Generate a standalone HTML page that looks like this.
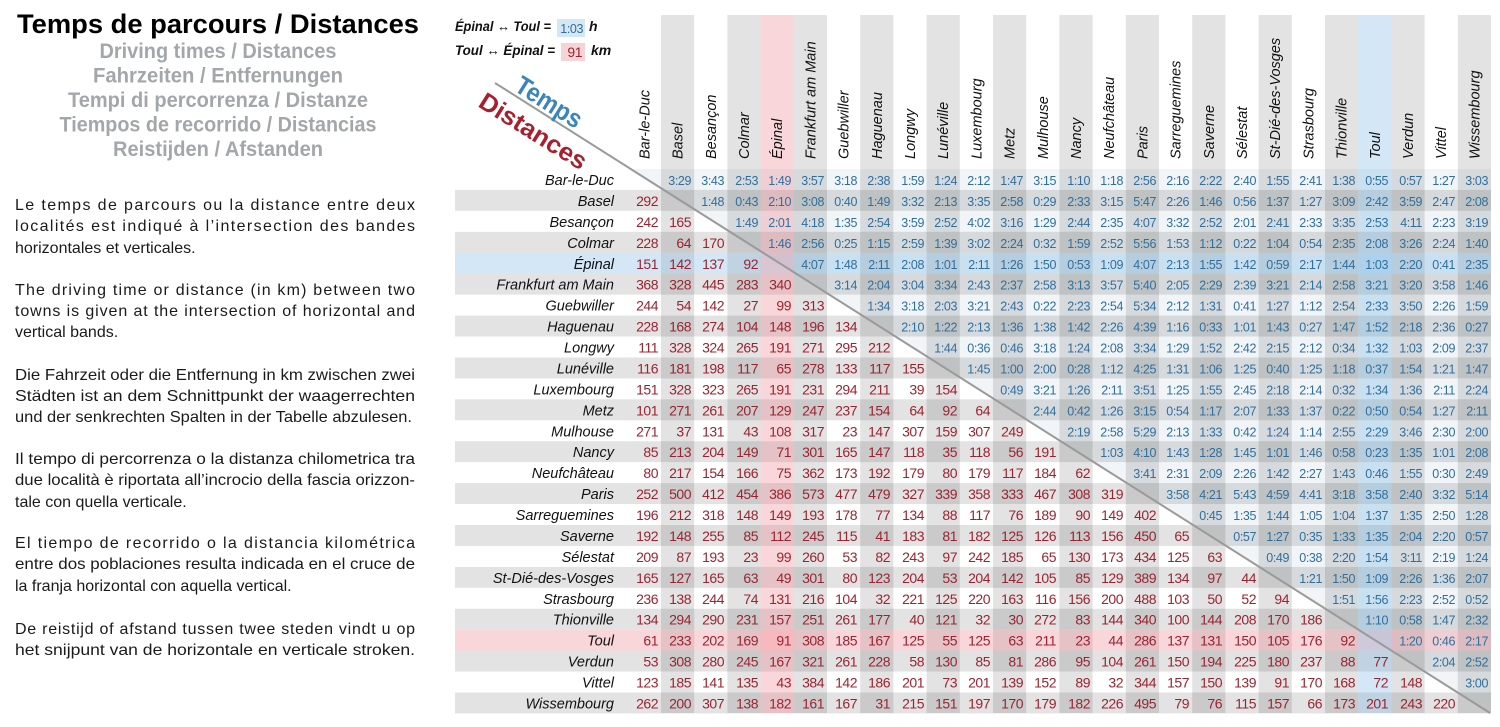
<!DOCTYPE html>
<html><head><meta charset="utf-8"><style>
html,body{margin:0;padding:0;background:#fff}
svg{display:block}
.p{font-family:"Liberation Sans",sans-serif;font-size:16px;fill:#1a1a1a}
.h{font-family:"Liberation Sans",sans-serif;font-style:italic;font-size:14.5px;fill:#111}
.d{font-family:"Liberation Sans Narrow","Liberation Sans",sans-serif;font-size:14px;letter-spacing:-0.5px;fill:#9b2330;text-anchor:end}
.t{font-family:"Liberation Sans Narrow","Liberation Sans",sans-serif;font-size:12.5px;letter-spacing:-0.4px;fill:#2f6f9f;text-anchor:end}
.r{text-anchor:end}
</style></head><body>
<svg width="1500" height="727" viewBox="0 0 1500 727" xmlns="http://www.w3.org/2000/svg">
<rect width="1500" height="727" fill="#fff"/>
<text x="218" y="33" text-anchor="middle" font-family="Liberation Sans, sans-serif" font-weight="bold" font-size="27" fill="#000" textLength="402" lengthAdjust="spacingAndGlyphs">Temps de parcours / Distances</text>
<g font-family="Liberation Sans, sans-serif" font-weight="bold" font-size="21" fill="#a3a7aa" text-anchor="middle">
<text x="218" y="58" textLength="237" lengthAdjust="spacingAndGlyphs">Driving times / Distances</text>
<text x="218" y="82.5" textLength="250" lengthAdjust="spacingAndGlyphs">Fahrzeiten / Entfernungen</text>
<text x="218" y="107" textLength="300" lengthAdjust="spacingAndGlyphs">Tempi di percorrenza / Distanze</text>
<text x="218" y="131.5" textLength="317" lengthAdjust="spacingAndGlyphs">Tiempos de recorrido / Distancias</text>
<text x="218" y="156" textLength="210" lengthAdjust="spacingAndGlyphs">Reistijden / Afstanden</text>
</g>
<g class="p">
<text x="15" y="210" textLength="400" lengthAdjust="spacing">Le temps de parcours ou la distance entre deux</text>
<text x="15" y="231" textLength="400" lengthAdjust="spacing">localités est indiqué à l’intersection des bandes</text>
<text x="15" y="253">horizontales et verticales.</text>
<text x="15" y="295" textLength="400" lengthAdjust="spacing">The driving time or distance (in km) between two</text>
<text x="15" y="316" textLength="400" lengthAdjust="spacing">towns is given at the intersection of horizontal and</text>
<text x="15" y="337">vertical bands.</text>
<text x="15" y="380" textLength="400" lengthAdjust="spacingAndGlyphs">Die Fahrzeit oder die Entfernung in km zwischen zwei</text>
<text x="15" y="401" textLength="400" lengthAdjust="spacingAndGlyphs">Städten ist an dem Schnittpunkt der waagerrechten</text>
<text x="15" y="422" textLength="397" lengthAdjust="spacingAndGlyphs">und der senkrechten Spalten in der Tabelle abzulesen.</text>
<text x="15" y="464" textLength="400" lengthAdjust="spacingAndGlyphs">Il tempo di percorrenza o la distanza chilometrica tra</text>
<text x="15" y="485" textLength="400" lengthAdjust="spacingAndGlyphs">due località è riportata all’incrocio della fascia orizzon-</text>
<text x="15" y="507">tale con quella verticale.</text>
<text x="15" y="548" textLength="400" lengthAdjust="spacing">El tiempo de recorrido o la distancia kilométrica</text>
<text x="15" y="569" textLength="400" lengthAdjust="spacingAndGlyphs">entre dos poblaciones resulta indicada en el cruce de</text>
<text x="15" y="591">la franja horizontal con aquella vertical.</text>
<text x="15" y="634" textLength="400" lengthAdjust="spacing">De reistijd of afstand tussen twee steden vindt u op</text>
<text x="15" y="655" textLength="400" lengthAdjust="spacingAndGlyphs">het snijpunt van de horizontale en verticale stroken.</text>
</g>
<polygon points="627.8,169 1491,169 1491,713" fill="rgba(140,170,195,0.12)"/>
<g fill="rgba(0,0,0,0.11)">
<rect x="455" y="189.9" width="1036" height="20.94"/>
<rect x="455" y="231.8" width="1036" height="20.94"/>
<rect x="455" y="273.7" width="1036" height="20.94"/>
<rect x="455" y="315.6" width="1036" height="20.94"/>
<rect x="455" y="357.5" width="1036" height="20.94"/>
<rect x="455" y="399.3" width="1036" height="20.94"/>
<rect x="455" y="441.2" width="1036" height="20.94"/>
<rect x="455" y="483.1" width="1036" height="20.94"/>
<rect x="455" y="525" width="1036" height="20.94"/>
<rect x="455" y="566.9" width="1036" height="20.94"/>
<rect x="455" y="608.7" width="1036" height="20.94"/>
<rect x="455" y="650.6" width="1036" height="20.94"/>
<rect x="455" y="692.5" width="1036" height="20.94"/>
<rect x="661" y="15" width="33.2" height="698"/>
<rect x="727.4" y="15" width="33.2" height="698"/>
<rect x="793.8" y="15" width="33.2" height="698"/>
<rect x="860.2" y="15" width="33.2" height="698"/>
<rect x="926.6" y="15" width="33.2" height="698"/>
<rect x="993" y="15" width="33.2" height="698"/>
<rect x="1059.4" y="15" width="33.2" height="698"/>
<rect x="1125.8" y="15" width="33.2" height="698"/>
<rect x="1192.2" y="15" width="33.2" height="698"/>
<rect x="1258.6" y="15" width="33.2" height="698"/>
<rect x="1325" y="15" width="33.2" height="698"/>
<rect x="1391.4" y="15" width="33.2" height="698"/>
<rect x="1457.8" y="15" width="33.2" height="698"/>
</g>
<rect x="455" y="252.8" width="1036" height="20.94" fill="rgba(110,175,225,0.3)"/>
<rect x="455" y="629.7" width="1036" height="20.94" fill="rgba(235,120,130,0.3)"/>
<rect x="760.6" y="15" width="33.2" height="698" fill="rgba(235,120,130,0.3)"/>
<rect x="1358.2" y="15" width="33.2" height="698" fill="rgba(110,175,225,0.3)"/>
<line x1="495" y1="83" x2="1490" y2="713" stroke="#9a9a9a" stroke-width="2"/>
<g font-family="Liberation Sans, sans-serif" font-style="italic" font-weight="bold" font-size="14" fill="#111">
<text x="455" y="31" textLength="96" lengthAdjust="spacingAndGlyphs">Épinal ↔ Toul =</text>
<text x="455" y="55" textLength="100" lengthAdjust="spacingAndGlyphs">Toul ↔ Épinal =</text>
<text x="589" y="31">h</text>
<text x="591" y="55">km</text>
</g>
<rect x="557" y="19" width="28" height="18" fill="#d3e7f5"/>
<rect x="561" y="43" width="24" height="18" fill="#f6d4d6"/>
<text x="583" y="33" class="t">1:03</text>
<text x="582" y="57" class="d">91</text>
<text transform="translate(513,90) rotate(32)" font-family="Liberation Sans, sans-serif" font-weight="bold" font-size="26" fill="#3a86ba" textLength="74" lengthAdjust="spacingAndGlyphs">Temps</text>
<text transform="translate(477,106) rotate(32)" font-family="Liberation Sans, sans-serif" font-weight="bold" font-size="25" fill="#a8202e" textLength="122" lengthAdjust="spacingAndGlyphs">Distances</text>
<g class="h">
<text transform="translate(649.4,159) rotate(-90)">Bar-le-Duc</text>
<text transform="translate(682.6,159) rotate(-90)">Basel</text>
<text transform="translate(715.8,159) rotate(-90)">Besançon</text>
<text transform="translate(749,159) rotate(-90)">Colmar</text>
<text transform="translate(782.2,159) rotate(-90)">Épinal</text>
<text transform="translate(815.4,159) rotate(-90)">Frankfurt am Main</text>
<text transform="translate(848.6,159) rotate(-90)">Guebwiller</text>
<text transform="translate(881.8,159) rotate(-90)">Haguenau</text>
<text transform="translate(915,159) rotate(-90)">Longwy</text>
<text transform="translate(948.2,159) rotate(-90)">Lunéville</text>
<text transform="translate(981.4,159) rotate(-90)">Luxembourg</text>
<text transform="translate(1014.6,159) rotate(-90)">Metz</text>
<text transform="translate(1047.8,159) rotate(-90)">Mulhouse</text>
<text transform="translate(1081,159) rotate(-90)">Nancy</text>
<text transform="translate(1114.2,159) rotate(-90)">Neufchâteau</text>
<text transform="translate(1147.4,159) rotate(-90)">Paris</text>
<text transform="translate(1180.6,159) rotate(-90)">Sarreguemines</text>
<text transform="translate(1213.8,159) rotate(-90)">Saverne</text>
<text transform="translate(1247,159) rotate(-90)">Sélestat</text>
<text transform="translate(1280.2,159) rotate(-90)">St-Dié-des-Vosges</text>
<text transform="translate(1313.4,159) rotate(-90)">Strasbourg</text>
<text transform="translate(1346.6,159) rotate(-90)">Thionville</text>
<text transform="translate(1379.8,159) rotate(-90)">Toul</text>
<text transform="translate(1413,159) rotate(-90)">Verdun</text>
<text transform="translate(1446.2,159) rotate(-90)">Vittel</text>
<text transform="translate(1479.4,159) rotate(-90)">Wissembourg</text>
</g>
<g class="h r">
<text x="614" y="185">Bar-le-Duc</text>
<text x="614" y="205.9">Basel</text>
<text x="614" y="226.9">Besançon</text>
<text x="614" y="247.8">Colmar</text>
<text x="614" y="268.8">Épinal</text>
<text x="614" y="289.7">Frankfurt am Main</text>
<text x="614" y="310.6">Guebwiller</text>
<text x="614" y="331.6">Haguenau</text>
<text x="614" y="352.5">Longwy</text>
<text x="614" y="373.5">Lunéville</text>
<text x="614" y="394.4">Luxembourg</text>
<text x="614" y="415.3">Metz</text>
<text x="614" y="436.3">Mulhouse</text>
<text x="614" y="457.2">Nancy</text>
<text x="614" y="478.2">Neufchâteau</text>
<text x="614" y="499.1">Paris</text>
<text x="614" y="520">Sarreguemines</text>
<text x="614" y="541">Saverne</text>
<text x="614" y="561.9">Sélestat</text>
<text x="614" y="582.9">St-Dié-des-Vosges</text>
<text x="614" y="603.8">Strasbourg</text>
<text x="614" y="624.7">Thionville</text>
<text x="614" y="645.7">Toul</text>
<text x="614" y="666.6">Verdun</text>
<text x="614" y="687.6">Vittel</text>
<text x="614" y="708.5">Wissembourg</text>
</g>
<text class="t" y="185"><tspan x="691">3:29</tspan><tspan x="724">3:43</tspan><tspan x="758">2:53</tspan><tspan x="791">1:49</tspan><tspan x="824">3:57</tspan><tspan x="857">3:18</tspan><tspan x="890">2:38</tspan><tspan x="924">1:59</tspan><tspan x="957">1:24</tspan><tspan x="990">2:12</tspan><tspan x="1023">1:47</tspan><tspan x="1056">3:15</tspan><tspan x="1090">1:10</tspan><tspan x="1123">1:18</tspan><tspan x="1156">2:56</tspan><tspan x="1189">2:16</tspan><tspan x="1222">2:22</tspan><tspan x="1256">2:40</tspan><tspan x="1289">1:55</tspan><tspan x="1322">2:41</tspan><tspan x="1355">1:38</tspan><tspan x="1388">0:55</tspan><tspan x="1422">0:57</tspan><tspan x="1455">1:27</tspan><tspan x="1488">3:03</tspan></text>
<text class="t" y="205.9"><tspan x="724">1:48</tspan><tspan x="758">0:43</tspan><tspan x="791">2:10</tspan><tspan x="824">3:08</tspan><tspan x="857">0:40</tspan><tspan x="890">1:49</tspan><tspan x="924">3:32</tspan><tspan x="957">2:13</tspan><tspan x="990">3:35</tspan><tspan x="1023">2:58</tspan><tspan x="1056">0:29</tspan><tspan x="1090">2:33</tspan><tspan x="1123">3:15</tspan><tspan x="1156">5:47</tspan><tspan x="1189">2:26</tspan><tspan x="1222">1:46</tspan><tspan x="1256">0:56</tspan><tspan x="1289">1:37</tspan><tspan x="1322">1:27</tspan><tspan x="1355">3:09</tspan><tspan x="1388">2:42</tspan><tspan x="1422">3:59</tspan><tspan x="1455">2:47</tspan><tspan x="1488">2:08</tspan></text>
<text class="t" y="226.9"><tspan x="758">1:49</tspan><tspan x="791">2:01</tspan><tspan x="824">4:18</tspan><tspan x="857">1:35</tspan><tspan x="890">2:54</tspan><tspan x="924">3:59</tspan><tspan x="957">2:52</tspan><tspan x="990">4:02</tspan><tspan x="1023">3:16</tspan><tspan x="1056">1:29</tspan><tspan x="1090">2:44</tspan><tspan x="1123">2:35</tspan><tspan x="1156">4:07</tspan><tspan x="1189">3:32</tspan><tspan x="1222">2:52</tspan><tspan x="1256">2:01</tspan><tspan x="1289">2:41</tspan><tspan x="1322">2:33</tspan><tspan x="1355">3:35</tspan><tspan x="1388">2:53</tspan><tspan x="1422">4:11</tspan><tspan x="1455">2:23</tspan><tspan x="1488">3:19</tspan></text>
<text class="t" y="247.8"><tspan x="791">1:46</tspan><tspan x="824">2:56</tspan><tspan x="857">0:25</tspan><tspan x="890">1:15</tspan><tspan x="924">2:59</tspan><tspan x="957">1:39</tspan><tspan x="990">3:02</tspan><tspan x="1023">2:24</tspan><tspan x="1056">0:32</tspan><tspan x="1090">1:59</tspan><tspan x="1123">2:52</tspan><tspan x="1156">5:56</tspan><tspan x="1189">1:53</tspan><tspan x="1222">1:12</tspan><tspan x="1256">0:22</tspan><tspan x="1289">1:04</tspan><tspan x="1322">0:54</tspan><tspan x="1355">2:35</tspan><tspan x="1388">2:08</tspan><tspan x="1422">3:26</tspan><tspan x="1455">2:24</tspan><tspan x="1488">1:40</tspan></text>
<text class="t" y="268.8"><tspan x="824">4:07</tspan><tspan x="857">1:48</tspan><tspan x="890">2:11</tspan><tspan x="924">2:08</tspan><tspan x="957">1:01</tspan><tspan x="990">2:11</tspan><tspan x="1023">1:26</tspan><tspan x="1056">1:50</tspan><tspan x="1090">0:53</tspan><tspan x="1123">1:09</tspan><tspan x="1156">4:07</tspan><tspan x="1189">2:13</tspan><tspan x="1222">1:55</tspan><tspan x="1256">1:42</tspan><tspan x="1289">0:59</tspan><tspan x="1322">2:17</tspan><tspan x="1355">1:44</tspan><tspan x="1388">1:03</tspan><tspan x="1422">2:20</tspan><tspan x="1455">0:41</tspan><tspan x="1488">2:35</tspan></text>
<text class="t" y="289.7"><tspan x="857">3:14</tspan><tspan x="890">2:04</tspan><tspan x="924">3:04</tspan><tspan x="957">3:34</tspan><tspan x="990">2:43</tspan><tspan x="1023">2:37</tspan><tspan x="1056">2:58</tspan><tspan x="1090">3:13</tspan><tspan x="1123">3:57</tspan><tspan x="1156">5:40</tspan><tspan x="1189">2:05</tspan><tspan x="1222">2:29</tspan><tspan x="1256">2:39</tspan><tspan x="1289">3:21</tspan><tspan x="1322">2:14</tspan><tspan x="1355">2:58</tspan><tspan x="1388">3:21</tspan><tspan x="1422">3:20</tspan><tspan x="1455">3:58</tspan><tspan x="1488">1:46</tspan></text>
<text class="t" y="310.6"><tspan x="890">1:34</tspan><tspan x="924">3:18</tspan><tspan x="957">2:03</tspan><tspan x="990">3:21</tspan><tspan x="1023">2:43</tspan><tspan x="1056">0:22</tspan><tspan x="1090">2:23</tspan><tspan x="1123">2:54</tspan><tspan x="1156">5:34</tspan><tspan x="1189">2:12</tspan><tspan x="1222">1:31</tspan><tspan x="1256">0:41</tspan><tspan x="1289">1:27</tspan><tspan x="1322">1:12</tspan><tspan x="1355">2:54</tspan><tspan x="1388">2:33</tspan><tspan x="1422">3:50</tspan><tspan x="1455">2:26</tspan><tspan x="1488">1:59</tspan></text>
<text class="t" y="331.6"><tspan x="924">2:10</tspan><tspan x="957">1:22</tspan><tspan x="990">2:13</tspan><tspan x="1023">1:36</tspan><tspan x="1056">1:38</tspan><tspan x="1090">1:42</tspan><tspan x="1123">2:26</tspan><tspan x="1156">4:39</tspan><tspan x="1189">1:16</tspan><tspan x="1222">0:33</tspan><tspan x="1256">1:01</tspan><tspan x="1289">1:43</tspan><tspan x="1322">0:27</tspan><tspan x="1355">1:47</tspan><tspan x="1388">1:52</tspan><tspan x="1422">2:18</tspan><tspan x="1455">2:36</tspan><tspan x="1488">0:27</tspan></text>
<text class="t" y="352.5"><tspan x="957">1:44</tspan><tspan x="990">0:36</tspan><tspan x="1023">0:46</tspan><tspan x="1056">3:18</tspan><tspan x="1090">1:24</tspan><tspan x="1123">2:08</tspan><tspan x="1156">3:34</tspan><tspan x="1189">1:29</tspan><tspan x="1222">1:52</tspan><tspan x="1256">2:42</tspan><tspan x="1289">2:15</tspan><tspan x="1322">2:12</tspan><tspan x="1355">0:34</tspan><tspan x="1388">1:32</tspan><tspan x="1422">1:03</tspan><tspan x="1455">2:09</tspan><tspan x="1488">2:37</tspan></text>
<text class="t" y="373.5"><tspan x="990">1:45</tspan><tspan x="1023">1:00</tspan><tspan x="1056">2:00</tspan><tspan x="1090">0:28</tspan><tspan x="1123">1:12</tspan><tspan x="1156">4:25</tspan><tspan x="1189">1:31</tspan><tspan x="1222">1:06</tspan><tspan x="1256">1:25</tspan><tspan x="1289">0:40</tspan><tspan x="1322">1:25</tspan><tspan x="1355">1:18</tspan><tspan x="1388">0:37</tspan><tspan x="1422">1:54</tspan><tspan x="1455">1:21</tspan><tspan x="1488">1:47</tspan></text>
<text class="t" y="394.4"><tspan x="1023">0:49</tspan><tspan x="1056">3:21</tspan><tspan x="1090">1:26</tspan><tspan x="1123">2:11</tspan><tspan x="1156">3:51</tspan><tspan x="1189">1:25</tspan><tspan x="1222">1:55</tspan><tspan x="1256">2:45</tspan><tspan x="1289">2:18</tspan><tspan x="1322">2:14</tspan><tspan x="1355">0:32</tspan><tspan x="1388">1:34</tspan><tspan x="1422">1:36</tspan><tspan x="1455">2:11</tspan><tspan x="1488">2:24</tspan></text>
<text class="t" y="415.3"><tspan x="1056">2:44</tspan><tspan x="1090">0:42</tspan><tspan x="1123">1:26</tspan><tspan x="1156">3:15</tspan><tspan x="1189">0:54</tspan><tspan x="1222">1:17</tspan><tspan x="1256">2:07</tspan><tspan x="1289">1:33</tspan><tspan x="1322">1:37</tspan><tspan x="1355">0:22</tspan><tspan x="1388">0:50</tspan><tspan x="1422">0:54</tspan><tspan x="1455">1:27</tspan><tspan x="1488">2:11</tspan></text>
<text class="t" y="436.3"><tspan x="1090">2:19</tspan><tspan x="1123">2:58</tspan><tspan x="1156">5:29</tspan><tspan x="1189">2:13</tspan><tspan x="1222">1:33</tspan><tspan x="1256">0:42</tspan><tspan x="1289">1:24</tspan><tspan x="1322">1:14</tspan><tspan x="1355">2:55</tspan><tspan x="1388">2:29</tspan><tspan x="1422">3:46</tspan><tspan x="1455">2:30</tspan><tspan x="1488">2:00</tspan></text>
<text class="t" y="457.2"><tspan x="1123">1:03</tspan><tspan x="1156">4:10</tspan><tspan x="1189">1:43</tspan><tspan x="1222">1:28</tspan><tspan x="1256">1:45</tspan><tspan x="1289">1:01</tspan><tspan x="1322">1:46</tspan><tspan x="1355">0:58</tspan><tspan x="1388">0:23</tspan><tspan x="1422">1:35</tspan><tspan x="1455">1:01</tspan><tspan x="1488">2:08</tspan></text>
<text class="t" y="478.2"><tspan x="1156">3:41</tspan><tspan x="1189">2:31</tspan><tspan x="1222">2:09</tspan><tspan x="1256">2:26</tspan><tspan x="1289">1:42</tspan><tspan x="1322">2:27</tspan><tspan x="1355">1:43</tspan><tspan x="1388">0:46</tspan><tspan x="1422">1:55</tspan><tspan x="1455">0:30</tspan><tspan x="1488">2:49</tspan></text>
<text class="t" y="499.1"><tspan x="1189">3:58</tspan><tspan x="1222">4:21</tspan><tspan x="1256">5:43</tspan><tspan x="1289">4:59</tspan><tspan x="1322">4:41</tspan><tspan x="1355">3:18</tspan><tspan x="1388">3:58</tspan><tspan x="1422">2:40</tspan><tspan x="1455">3:32</tspan><tspan x="1488">5:14</tspan></text>
<text class="t" y="520"><tspan x="1222">0:45</tspan><tspan x="1256">1:35</tspan><tspan x="1289">1:44</tspan><tspan x="1322">1:05</tspan><tspan x="1355">1:04</tspan><tspan x="1388">1:37</tspan><tspan x="1422">1:35</tspan><tspan x="1455">2:50</tspan><tspan x="1488">1:28</tspan></text>
<text class="t" y="541"><tspan x="1256">0:57</tspan><tspan x="1289">1:27</tspan><tspan x="1322">0:35</tspan><tspan x="1355">1:33</tspan><tspan x="1388">1:35</tspan><tspan x="1422">2:04</tspan><tspan x="1455">2:20</tspan><tspan x="1488">0:57</tspan></text>
<text class="t" y="561.9"><tspan x="1289">0:49</tspan><tspan x="1322">0:38</tspan><tspan x="1355">2:20</tspan><tspan x="1388">1:54</tspan><tspan x="1422">3:11</tspan><tspan x="1455">2:19</tspan><tspan x="1488">1:24</tspan></text>
<text class="t" y="582.9"><tspan x="1322">1:21</tspan><tspan x="1355">1:50</tspan><tspan x="1388">1:09</tspan><tspan x="1422">2:26</tspan><tspan x="1455">1:36</tspan><tspan x="1488">2:07</tspan></text>
<text class="t" y="603.8"><tspan x="1355">1:51</tspan><tspan x="1388">1:56</tspan><tspan x="1422">2:23</tspan><tspan x="1455">2:52</tspan><tspan x="1488">0:52</tspan></text>
<text class="t" y="624.7"><tspan x="1388">1:10</tspan><tspan x="1422">0:58</tspan><tspan x="1455">1:47</tspan><tspan x="1488">2:32</tspan></text>
<text class="t" y="645.7"><tspan x="1422">1:20</tspan><tspan x="1455">0:46</tspan><tspan x="1488">2:17</tspan></text>
<text class="t" y="666.6"><tspan x="1455">2:04</tspan><tspan x="1488">2:52</tspan></text>
<text class="t" y="687.6"><tspan x="1488">3:00</tspan></text>
<text class="d" y="205.9"><tspan x="658">292</tspan></text>
<text class="d" y="226.9"><tspan x="658">242</tspan><tspan x="691">165</tspan></text>
<text class="d" y="247.8"><tspan x="658">228</tspan><tspan x="691">64</tspan><tspan x="724">170</tspan></text>
<text class="d" y="268.8"><tspan x="658">151</tspan><tspan x="691">142</tspan><tspan x="724">137</tspan><tspan x="758">92</tspan></text>
<text class="d" y="289.7"><tspan x="658">368</tspan><tspan x="691">328</tspan><tspan x="724">445</tspan><tspan x="758">283</tspan><tspan x="791">340</tspan></text>
<text class="d" y="310.6"><tspan x="658">244</tspan><tspan x="691">54</tspan><tspan x="724">142</tspan><tspan x="758">27</tspan><tspan x="791">99</tspan><tspan x="824">313</tspan></text>
<text class="d" y="331.6"><tspan x="658">228</tspan><tspan x="691">168</tspan><tspan x="724">274</tspan><tspan x="758">104</tspan><tspan x="791">148</tspan><tspan x="824">196</tspan><tspan x="857">134</tspan></text>
<text class="d" y="352.5"><tspan x="658">111</tspan><tspan x="691">328</tspan><tspan x="724">324</tspan><tspan x="758">265</tspan><tspan x="791">191</tspan><tspan x="824">271</tspan><tspan x="857">295</tspan><tspan x="890">212</tspan></text>
<text class="d" y="373.5"><tspan x="658">116</tspan><tspan x="691">181</tspan><tspan x="724">198</tspan><tspan x="758">117</tspan><tspan x="791">65</tspan><tspan x="824">278</tspan><tspan x="857">133</tspan><tspan x="890">117</tspan><tspan x="924">155</tspan></text>
<text class="d" y="394.4"><tspan x="658">151</tspan><tspan x="691">328</tspan><tspan x="724">323</tspan><tspan x="758">265</tspan><tspan x="791">191</tspan><tspan x="824">231</tspan><tspan x="857">294</tspan><tspan x="890">211</tspan><tspan x="924">39</tspan><tspan x="957">154</tspan></text>
<text class="d" y="415.3"><tspan x="658">101</tspan><tspan x="691">271</tspan><tspan x="724">261</tspan><tspan x="758">207</tspan><tspan x="791">129</tspan><tspan x="824">247</tspan><tspan x="857">237</tspan><tspan x="890">154</tspan><tspan x="924">64</tspan><tspan x="957">92</tspan><tspan x="990">64</tspan></text>
<text class="d" y="436.3"><tspan x="658">271</tspan><tspan x="691">37</tspan><tspan x="724">131</tspan><tspan x="758">43</tspan><tspan x="791">108</tspan><tspan x="824">317</tspan><tspan x="857">23</tspan><tspan x="890">147</tspan><tspan x="924">307</tspan><tspan x="957">159</tspan><tspan x="990">307</tspan><tspan x="1023">249</tspan></text>
<text class="d" y="457.2"><tspan x="658">85</tspan><tspan x="691">213</tspan><tspan x="724">204</tspan><tspan x="758">149</tspan><tspan x="791">71</tspan><tspan x="824">301</tspan><tspan x="857">165</tspan><tspan x="890">147</tspan><tspan x="924">118</tspan><tspan x="957">35</tspan><tspan x="990">118</tspan><tspan x="1023">56</tspan><tspan x="1056">191</tspan></text>
<text class="d" y="478.2"><tspan x="658">80</tspan><tspan x="691">217</tspan><tspan x="724">154</tspan><tspan x="758">166</tspan><tspan x="791">75</tspan><tspan x="824">362</tspan><tspan x="857">173</tspan><tspan x="890">192</tspan><tspan x="924">179</tspan><tspan x="957">80</tspan><tspan x="990">179</tspan><tspan x="1023">117</tspan><tspan x="1056">184</tspan><tspan x="1090">62</tspan></text>
<text class="d" y="499.1"><tspan x="658">252</tspan><tspan x="691">500</tspan><tspan x="724">412</tspan><tspan x="758">454</tspan><tspan x="791">386</tspan><tspan x="824">573</tspan><tspan x="857">477</tspan><tspan x="890">479</tspan><tspan x="924">327</tspan><tspan x="957">339</tspan><tspan x="990">358</tspan><tspan x="1023">333</tspan><tspan x="1056">467</tspan><tspan x="1090">308</tspan><tspan x="1123">319</tspan></text>
<text class="d" y="520"><tspan x="658">196</tspan><tspan x="691">212</tspan><tspan x="724">318</tspan><tspan x="758">148</tspan><tspan x="791">149</tspan><tspan x="824">193</tspan><tspan x="857">178</tspan><tspan x="890">77</tspan><tspan x="924">134</tspan><tspan x="957">88</tspan><tspan x="990">117</tspan><tspan x="1023">76</tspan><tspan x="1056">189</tspan><tspan x="1090">90</tspan><tspan x="1123">149</tspan><tspan x="1156">402</tspan></text>
<text class="d" y="541"><tspan x="658">192</tspan><tspan x="691">148</tspan><tspan x="724">255</tspan><tspan x="758">85</tspan><tspan x="791">112</tspan><tspan x="824">245</tspan><tspan x="857">115</tspan><tspan x="890">41</tspan><tspan x="924">183</tspan><tspan x="957">81</tspan><tspan x="990">182</tspan><tspan x="1023">125</tspan><tspan x="1056">126</tspan><tspan x="1090">113</tspan><tspan x="1123">156</tspan><tspan x="1156">450</tspan><tspan x="1189">65</tspan></text>
<text class="d" y="561.9"><tspan x="658">209</tspan><tspan x="691">87</tspan><tspan x="724">193</tspan><tspan x="758">23</tspan><tspan x="791">99</tspan><tspan x="824">260</tspan><tspan x="857">53</tspan><tspan x="890">82</tspan><tspan x="924">243</tspan><tspan x="957">97</tspan><tspan x="990">242</tspan><tspan x="1023">185</tspan><tspan x="1056">65</tspan><tspan x="1090">130</tspan><tspan x="1123">173</tspan><tspan x="1156">434</tspan><tspan x="1189">125</tspan><tspan x="1222">63</tspan></text>
<text class="d" y="582.9"><tspan x="658">165</tspan><tspan x="691">127</tspan><tspan x="724">165</tspan><tspan x="758">63</tspan><tspan x="791">49</tspan><tspan x="824">301</tspan><tspan x="857">80</tspan><tspan x="890">123</tspan><tspan x="924">204</tspan><tspan x="957">53</tspan><tspan x="990">204</tspan><tspan x="1023">142</tspan><tspan x="1056">105</tspan><tspan x="1090">85</tspan><tspan x="1123">129</tspan><tspan x="1156">389</tspan><tspan x="1189">134</tspan><tspan x="1222">97</tspan><tspan x="1256">44</tspan></text>
<text class="d" y="603.8"><tspan x="658">236</tspan><tspan x="691">138</tspan><tspan x="724">244</tspan><tspan x="758">74</tspan><tspan x="791">131</tspan><tspan x="824">216</tspan><tspan x="857">104</tspan><tspan x="890">32</tspan><tspan x="924">221</tspan><tspan x="957">125</tspan><tspan x="990">220</tspan><tspan x="1023">163</tspan><tspan x="1056">116</tspan><tspan x="1090">156</tspan><tspan x="1123">200</tspan><tspan x="1156">488</tspan><tspan x="1189">103</tspan><tspan x="1222">50</tspan><tspan x="1256">52</tspan><tspan x="1289">94</tspan></text>
<text class="d" y="624.7"><tspan x="658">134</tspan><tspan x="691">294</tspan><tspan x="724">290</tspan><tspan x="758">231</tspan><tspan x="791">157</tspan><tspan x="824">251</tspan><tspan x="857">261</tspan><tspan x="890">177</tspan><tspan x="924">40</tspan><tspan x="957">121</tspan><tspan x="990">32</tspan><tspan x="1023">30</tspan><tspan x="1056">272</tspan><tspan x="1090">83</tspan><tspan x="1123">144</tspan><tspan x="1156">340</tspan><tspan x="1189">100</tspan><tspan x="1222">144</tspan><tspan x="1256">208</tspan><tspan x="1289">170</tspan><tspan x="1322">186</tspan></text>
<text class="d" y="645.7"><tspan x="658">61</tspan><tspan x="691">233</tspan><tspan x="724">202</tspan><tspan x="758">169</tspan><tspan x="791">91</tspan><tspan x="824">308</tspan><tspan x="857">185</tspan><tspan x="890">167</tspan><tspan x="924">125</tspan><tspan x="957">55</tspan><tspan x="990">125</tspan><tspan x="1023">63</tspan><tspan x="1056">211</tspan><tspan x="1090">23</tspan><tspan x="1123">44</tspan><tspan x="1156">286</tspan><tspan x="1189">137</tspan><tspan x="1222">131</tspan><tspan x="1256">150</tspan><tspan x="1289">105</tspan><tspan x="1322">176</tspan><tspan x="1355">92</tspan></text>
<text class="d" y="666.6"><tspan x="658">53</tspan><tspan x="691">308</tspan><tspan x="724">280</tspan><tspan x="758">245</tspan><tspan x="791">167</tspan><tspan x="824">321</tspan><tspan x="857">261</tspan><tspan x="890">228</tspan><tspan x="924">58</tspan><tspan x="957">130</tspan><tspan x="990">85</tspan><tspan x="1023">81</tspan><tspan x="1056">286</tspan><tspan x="1090">95</tspan><tspan x="1123">104</tspan><tspan x="1156">261</tspan><tspan x="1189">150</tspan><tspan x="1222">194</tspan><tspan x="1256">225</tspan><tspan x="1289">180</tspan><tspan x="1322">237</tspan><tspan x="1355">88</tspan><tspan x="1388">77</tspan></text>
<text class="d" y="687.6"><tspan x="658">123</tspan><tspan x="691">185</tspan><tspan x="724">141</tspan><tspan x="758">135</tspan><tspan x="791">43</tspan><tspan x="824">384</tspan><tspan x="857">142</tspan><tspan x="890">186</tspan><tspan x="924">201</tspan><tspan x="957">73</tspan><tspan x="990">201</tspan><tspan x="1023">139</tspan><tspan x="1056">152</tspan><tspan x="1090">89</tspan><tspan x="1123">32</tspan><tspan x="1156">344</tspan><tspan x="1189">157</tspan><tspan x="1222">150</tspan><tspan x="1256">139</tspan><tspan x="1289">91</tspan><tspan x="1322">170</tspan><tspan x="1355">168</tspan><tspan x="1388">72</tspan><tspan x="1422">148</tspan></text>
<text class="d" y="708.5"><tspan x="658">262</tspan><tspan x="691">200</tspan><tspan x="724">307</tspan><tspan x="758">138</tspan><tspan x="791">182</tspan><tspan x="824">161</tspan><tspan x="857">167</tspan><tspan x="890">31</tspan><tspan x="924">215</tspan><tspan x="957">151</tspan><tspan x="990">197</tspan><tspan x="1023">170</tspan><tspan x="1056">179</tspan><tspan x="1090">182</tspan><tspan x="1123">226</tspan><tspan x="1156">495</tspan><tspan x="1189">79</tspan><tspan x="1222">76</tspan><tspan x="1256">115</tspan><tspan x="1289">157</tspan><tspan x="1322">66</tspan><tspan x="1355">173</tspan><tspan x="1388">201</tspan><tspan x="1422">243</tspan><tspan x="1455">220</tspan></text>
</svg>
</body></html>
